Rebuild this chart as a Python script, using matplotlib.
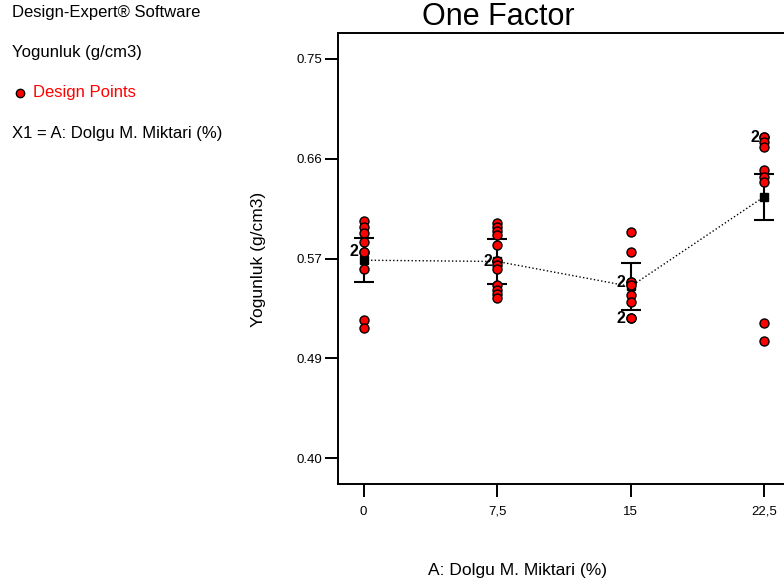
import matplotlib
matplotlib.use("Agg")
import matplotlib.pyplot as plt
from matplotlib.lines import Line2D

plt.rcParams['font.family'] = ['Liberation Sans', 'DejaVu Sans']

levels = [0, 7.5, 15, 22.5]
level_labels = ['0', '7,5', '15', '22,5']
points = [
    [0.6076, 0.6024, 0.5975, 0.5899, 0.5811, 0.5811, 0.5659, 0.5207, 0.5140],
    [0.6059, 0.6024, 0.5989, 0.5960, 0.5864, 0.5724, 0.5724, 0.5689, 0.5660,
     0.5520, 0.5476, 0.5441, 0.5403],
    [0.5986, 0.5811, 0.5543, 0.5543, 0.5514, 0.5426, 0.5368, 0.5228, 0.5228],
    [0.6811, 0.6811, 0.6774, 0.6724, 0.6526, 0.6467, 0.6418, 0.5187, 0.5026],
]
# predicted means and half LSD bars
means = [0.5735, 0.5724, 0.5505, 0.6292]
lsd_half = [0.0195, 0.0196, 0.0204, 0.0201]

y_ticks = [0.40, 0.4875, 0.575, 0.6625, 0.75]
y_tick_labels = ['0.40', '0.49', '0.57', '0.66', '0.75']

fig = plt.figure(figsize=(7.84, 5.87), dpi=100)
ax = fig.add_axes([338/784, 1-484/587, 1-338/784, (484-33)/587])

# dotted line through the means
ax.plot(levels, means, color='black', linestyle=':', linewidth=1.0, zorder=2)

# error bars
ax.errorbar(levels, means, yerr=lsd_half, fmt='none', ecolor='black',
            elinewidth=1.5, capsize=7.5, capthick=1.5, zorder=3)

# design points, with a "2" beside the replicated ones
for x, vals in zip(levels, points):
    ax.plot([x]*len(vals), vals, linestyle='none', marker='o', markersize=6.5,
            markerfacecolor='red', markeredgecolor='black', markeredgewidth=1.0,
            zorder=4)
    seen = []
    for v in vals:
        if vals.count(v) > 1 and v not in seen:
            seen.append(v)
            ax.annotate(str(vals.count(v)), (x, v), xytext=(-3.5, 0),
                        textcoords='offset points', ha='right', va='center',
                        fontsize=11.5, fontweight='bold', zorder=5)

# mean squares
ax.plot(levels, means, linestyle='none', marker='s', markersize=6,
        color='black', zorder=3.5)

ax.set_xlim(-1.44, 23.61)
ax.set_ylim(0.3773, 0.7727)
ax.set_xticks(levels)
ax.set_xticklabels(level_labels, fontsize=9.5)
ax.set_yticks(y_ticks)
ax.set_yticklabels(y_tick_labels, fontsize=9.5)
ax.tick_params(direction='out', length=9.5, width=1.4)
ax.tick_params(axis='y', pad=2)
ax.tick_params(axis='x', pad=6)
for s in ['left', 'bottom', 'top']:
    ax.spines[s].set_linewidth(1.4)
ax.spines['right'].set_visible(False)

fig.text(258/784, 1-259/587, 'Yogunluk (g/cm3)', rotation=90,
         ha='center', va='center', fontsize=12.5)
fig.text(518/784, 1-570/587, 'A: Dolgu M. Miktari (%)',
         ha='center', va='center', fontsize=12.5)
fig.text(498/784, 1-17/587, 'One Factor', ha='center', va='center',
         fontsize=22)

# side notes
fig.text(12/784, 1-13/587, 'Design-Expert® Software', ha='left',
         va='center', fontsize=12)
fig.text(12/784, 1-53/587, 'Yogunluk (g/cm3)', ha='left', va='center',
         fontsize=12)
fig.add_artist(Line2D([20/784], [1-93/587], transform=fig.transFigure,
                      marker='o', markersize=6, markerfacecolor='red',
                      markeredgecolor='black', linestyle='none'))
fig.text(33/784, 1-93/587, 'Design Points', ha='left', va='center',
         fontsize=12, color='red')
fig.text(12/784, 1-133/587, 'X1 = A: Dolgu M. Miktari (%)', ha='left',
         va='center', fontsize=12)

fig.savefig('out.png', dpi=100)
